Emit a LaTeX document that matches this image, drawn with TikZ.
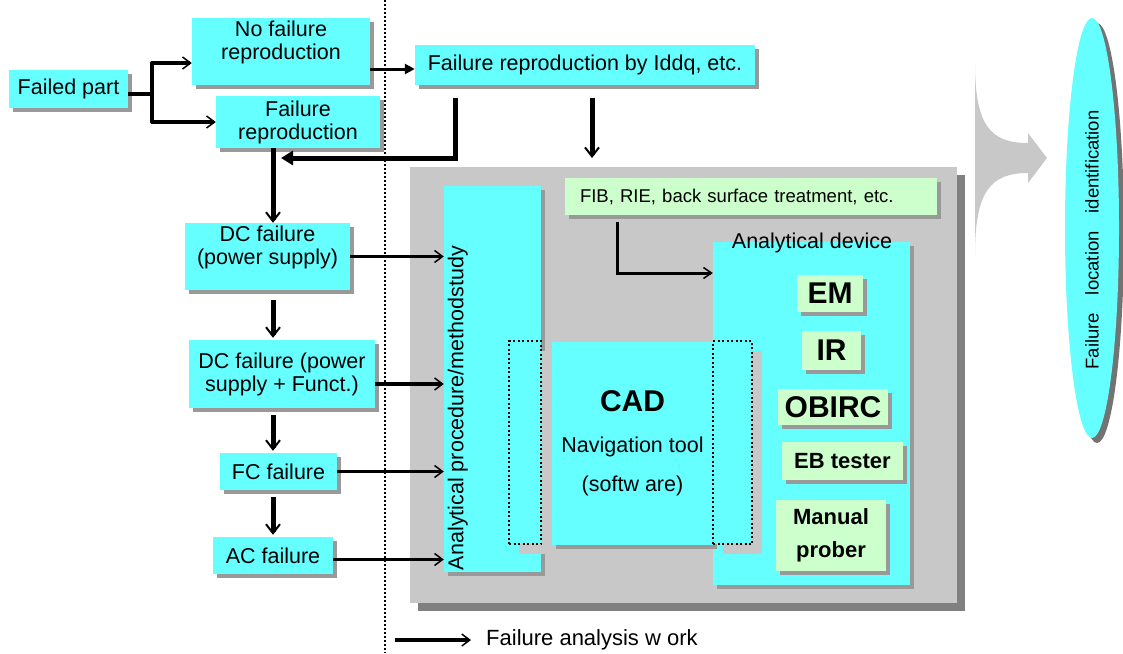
\documentclass[tikz,border=0pt]{standalone}
\usepackage{fontspec}
\setmainfont{Liberation Sans}
\usepackage{graphicx}
\usetikzlibrary{arrows.meta,shadows,shapes.geometric,positioning}
\definecolor{BoxCyan}{HTML}{66FFFF}
\definecolor{ToolGreen}{HTML}{CCFFCC}
\definecolor{PanelGray}{HTML}{C8C8C8}
\definecolor{ShadeGray}{HTML}{808080}

\begin{document}
\begin{tikzpicture}[x=1pt, y=-1pt, every node/.style={font=\fontsize{21.5}{23}\selectfont}]
  \tikzstyle{box}=[rectangle, fill=BoxCyan, inner sep=0pt, align=center,
  drop shadow={shadow xshift=4pt, shadow yshift=-4pt, fill=black!40, opacity=1}]
  \tikzstyle{tool}=[box, fill=ToolGreen, font=\bfseries\fontsize{30}{34}\selectfont]
  \tikzstyle{overlap}=[rectangle, fill=BoxCyan, draw=black, line width=2pt,
  dash pattern=on 2pt off 2.5pt, inner sep=0pt,
  drop shadow={shadow xshift=10pt, shadow yshift=-10pt, fill=PanelGray, opacity=1}]
  \tikzstyle{trunk}=[line width=5pt, -{Straight Barb[length=9pt, width=14pt, line width=2pt]}]
  \tikzstyle{feed}=[line width=3.5pt, -{Straight Barb[length=8pt, width=12pt, line width=1.5pt]}]
  \tikzstyle{branch}=[line width=4pt, line join=round, -{Straight Barb[length=8pt, width=12pt, line width=1.5pt]}]
  \tikzstyle{solidtip}=[line width=3pt, -{Triangle[length=10pt, width=10pt]}]
  \useasboundingbox (0,0) rectangle (1123,653);

  % work boundary
  \draw[line width=2pt, dash pattern=on 2pt off 2pt] (385,0) -- (385,653);

  % analysis bench
  \node[rectangle, fill=PanelGray, minimum width=547pt, minimum height=436pt,
  drop shadow={shadow xshift=8pt, shadow yshift=-8pt, fill=ShadeGray, opacity=1}] (lab) at (683.5,385) {};

  % failure classification
  \node[box, minimum width=119pt, minimum height=38pt] (failed) at (68.5,89) {Failed part};
  \node[box, minimum width=178pt, minimum height=67pt] (nofail) at (281,51.5) {No failure\\reproduction\\\mbox{}};
  \node[box, minimum width=164pt, minimum height=52pt] (fail) at (298,122) {Failure\\reproduction};
  \node[box, minimum width=340pt, minimum height=40pt] (iddq) at (585,65) {Failure reproduction by Iddq, etc.};
  \node[box, minimum width=165pt, minimum height=67pt] (dcpower) at (267.5,256.5) {DC failure\\(power supply)\\\mbox{}};
  \node[box, minimum width=186pt, minimum height=68pt] (dcfunct) at (282,374) {DC failure (power\\supply + Funct.)};
  \node[box, minimum width=117pt, minimum height=37pt] (fc) at (278.5,471.5) {FC failure};
  \node[box, minimum width=120pt, minimum height=37pt] (ac) at (273,555.5) {AC failure};

  % procedure column, preparation and devices
  \node[box, minimum width=97pt, minimum height=386pt] (column) at (492.5,379) {};
  \node[rotate=90, anchor=west, inner sep=0pt] (proc) at ([xshift=14pt, yshift=2pt]column.south west)
  {Analytical procedure/methodstudy};
  \node[box, fill=ToolGreen, minimum width=372pt, minimum height=37pt, text width=342pt, align=left,
  font=\fontsize{18.5}{20}\selectfont] (fib) at (751,196.5) {FIB, RIE, back surface treatment, etc.};
  \node[box, minimum width=197pt, minimum height=343pt] (device) at (811.5,413.5) {};
  \node (devtitle) at (812,243) {Analytical device};
  \node[tool, minimum width=66pt, minimum height=37pt] (em) at (830,293.5) {EM};
  \node[tool, minimum width=59pt, minimum height=39pt] (ir) at (831.5,350.5) {IR};
  \node[tool, minimum width=110pt, minimum height=36pt] (obirc) at (833,407) {OBIRC};
  \node[tool, minimum width=121pt, minimum height=38pt, font=\bfseries\fontsize{22}{24}\selectfont]
  (eb) at (842.5,461) {EB tester};
  \node[tool, minimum width=110pt, minimum height=71pt, font=\bfseries\fontsize{22}{33}\selectfont]
  (prober) at (831,535.5) {Manual\\prober};

  % CAD navigation and its overlaps
  \node[overlap, minimum width=32pt, minimum height=203pt] (lapleft) at (525,442.5) {};
  \node[box, minimum width=161pt, minimum height=203pt] (cad) at (632.5,443.5)
  {{\fontsize{30}{30}\selectfont\bfseries CAD}\\[18pt]Navigation\hspace{6pt}tool\\[16pt](softw are)};
  \node[overlap, minimum width=39pt, minimum height=203pt] (lapright) at (732.5,442.5) {};

  % branching of the failed part
  \coordinate (splitup) at (152,63);
  \coordinate (splitdn) at (152,122);
  \draw[branch] ([yshift=-5pt]failed.east) -| (splitup) -- (splitup -| nofail.west);
  \draw[branch] ([yshift=-5pt]failed.east) -| (splitdn) -- (splitdn -| fail.west);
  \draw[solidtip] ([yshift=-4pt]iddq.west -| nofail.east) -- ([yshift=-4pt]iddq.west);

  % back from Iddq and down the trunk
  \coordinate (fbturn) at (455,158);
  \coordinate (fbend) at (281,158);
  \draw[line width=5pt, -{Triangle[length=12pt, width=14pt]}, shorten <=13pt]
  (iddq.south -| fbturn) -- (fbturn) -- (fbend);
  \coordinate (iddqdrop) at (592,158);
  \draw[trunk, shorten <=13pt] (iddq.south -| iddqdrop) -- (iddqdrop);
  \coordinate (trunkx) at (273,0);
  \draw[trunk] (fail.south -| trunkx) -- (dcpower.north -| trunkx);
  \draw[trunk, shorten <=10pt, shorten >=2pt] (dcpower.south -| trunkx) -- (dcfunct.north -| trunkx);
  \draw[trunk, shorten <=7pt, shorten >=2pt] (dcfunct.south -| trunkx) -- (fc.north -| trunkx);
  \draw[trunk, shorten <=7pt, shorten >=2pt] (fc.south -| trunkx) -- (ac.north -| trunkx);

  % into the procedure study
  \draw[feed] (dcpower.east) -- (dcpower.east -| column.west);
  \draw[feed] ([yshift=-10pt]dcfunct.east) -- ([yshift=-10pt]dcfunct.east -| column.west);
  \draw[feed] (fc.east) -- (fc.east -| column.west);
  \draw[feed] ([yshift=-4pt]ac.east) -- ([yshift=-4pt]ac.east -| column.west);

  % preparation feeds the devices
  \coordinate (fibdrop) at (617,273);
  \draw[line width=3pt, -{Straight Barb[length=8pt, width=11pt, line width=1.5pt]}, shorten <=7pt]
  (fib.south -| fibdrop) -- (fibdrop) -- (fibdrop -| device.west);

  % result
  \fill[PanelGray] (975,63) .. controls (975,125) and (990,143) .. (1028,143)
  -- (1028,133) -- (1047,158) -- (1028,183) -- (1028,173)
  .. controls (990,173) and (975,192) .. (975,255) -- cycle;
  \node[ellipse, fill=BoxCyan, inner sep=0pt, minimum width=54pt, minimum height=420pt,
  drop shadow={shadow xshift=5pt, shadow yshift=-5pt, fill=black!55, opacity=1},
  font=\fontsize{18.5}{20}\selectfont] (located) at (1092,228)
  {\rotatebox{90}{Failure\hspace{18pt}location\hspace{18pt}identification\hspace{24pt}}};

  % legend
  \node[anchor=west, inner sep=0pt, font=\fontsize{22}{24}\selectfont] (legend) at (486,640) {Failure analysis w ork};
  \draw[line width=4pt, -{Straight Barb[length=8pt, width=12pt, line width=1.5pt]}]
  ([xshift=-91pt]legend.west) -- ([xshift=-15pt]legend.west);
\end{tikzpicture}
\end{document}
